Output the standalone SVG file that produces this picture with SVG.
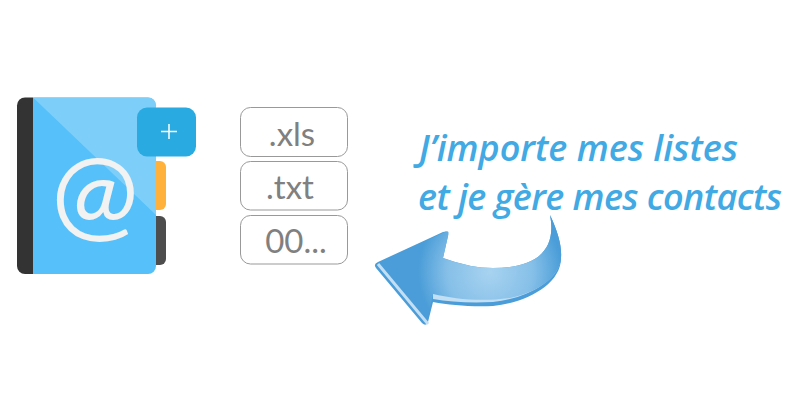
<svg xmlns="http://www.w3.org/2000/svg" width="800" height="400" viewBox="0 0 800 400">
<style>
.box{fill:#fff;stroke:#999;stroke-width:1}
.ft{font-family:Lato,"Open Sans",sans-serif;font-size:33px;fill:#808080;text-anchor:middle}
.hd{font-family:"Open Sans",Lato,sans-serif;font-size:36px;font-style:italic;font-weight:600;fill:#41a9e3}
</style>
<defs>
<radialGradient id="ag" gradientUnits="userSpaceOnUse" cx="490" cy="272" r="72">
<stop offset="0" stop-color="#a8d3f0"/>
<stop offset="0.6" stop-color="#85bfe8"/>
<stop offset="1" stop-color="#4a9dd8"/>
</radialGradient>
</defs>
<rect width="800" height="400" fill="#fff"/>
<g id="book">
<rect x="146" y="161" width="20" height="49" rx="6" fill="#ffb13b"/>
<rect x="146" y="216" width="20" height="49" rx="6" fill="#4d4d4d"/>
<path d="M33 97.500H148a8 8 0 0 1 8 8V266a8 8 0 0 1-8 8H33Z" fill="#55c0f9"/>
<path d="M33 97.500H148a8 8 0 0 1 8 8V215Z" fill="#7dcffa"/>
<path d="M33 97.500H25a8 8 0 0 0-8 8V266a8 8 0 0 0 8 8H33Z" fill="#333"/>
<text x="95" y="229" font-family="Lato,'Open Sans',sans-serif" font-size="104" fill="#f2f2f2" text-anchor="middle">@</text>
</g>
<g id="tab-plus">
<rect x="137" y="107.500" width="59" height="49" rx="10" fill="#29abe2"/>
<path d="M169 124V139M161 131.500H177" stroke="#fff" stroke-width="1.500" fill="none"/>
</g>
<g id="file-xls"><rect class="box" x="240.500" y="107.500" width="107" height="49" rx="10"/><text class="ft" x="292" y="146">.xls</text></g>
<g id="file-txt"><rect class="box" x="240.500" y="161.500" width="107" height="48.500" rx="10"/><text class="ft" x="290" y="199">.txt</text></g>
<g id="file-00"><rect class="box" x="240.500" y="215.500" width="107" height="48.500" rx="10"/><text class="ft" x="296" y="253">00...</text></g>
<text id="title-1" class="hd" x="419" y="161" textLength="319">J’importe mes listes</text>
<text id="title-2" class="hd" x="418" y="210" textLength="364">et je gère mes contacts</text>
<g id="arrow">
<path d="M550 215C558 232 562 246 561 258C561 285 525 303 493 306C470 307 450 305 433 302L428 322Q426 327 422 323L376 268Q373 264 378 262L443 232Q449 230 448 236L443 258Q470 268 493 268C530 268 558 255 550 215Z" fill="#4a9dd8"/>
<path d="M433 293C470 300 540 298 560 262C556 282 525 299 493 302C470 303 450 302 433 299Z" fill="#c3dff4"/>
<path d="M550 215C558 232 562 246 561 258C560 275 540 292 510 298C480 302 455 299 433 294L427 320L378 263L445 232C449 230 449 233 448 236L443 258Q470 268 493 268C530 268 558 255 550 215Z" fill="url(#ag)"/>
<path d="M378 264L428 324" stroke="#c3dff4" stroke-width="3" fill="none"/>
</g>
</svg>
